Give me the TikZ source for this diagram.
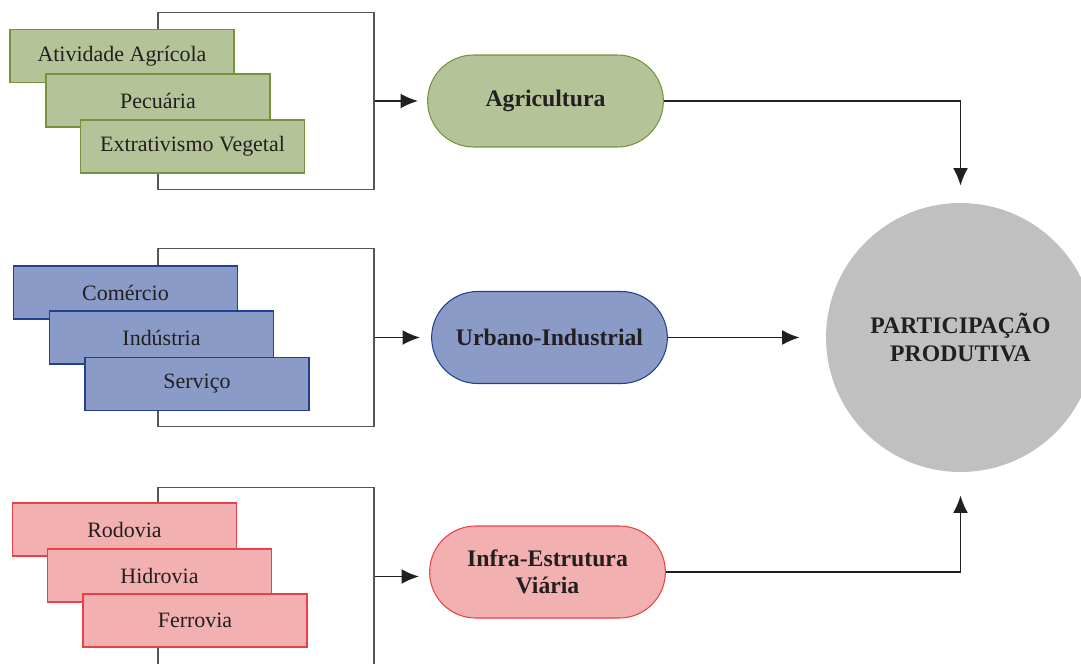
\documentclass[tikz,border=0pt]{standalone}
\usepackage{fontspec}
\setmainfont{Liberation Serif}
\usepackage{tikz}
\usetikzlibrary{shapes.misc, arrows.meta}
\definecolor{AgFill}{RGB}{181,196,152}
\definecolor{AgLine}{RGB}{118,146,60}
\definecolor{UrFill}{RGB}{138,155,200}
\definecolor{UrLine}{RGB}{36,62,145}
\definecolor{InFill}{RGB}{242,176,176}
\definecolor{InLine}{RGB}{236,64,72}
\definecolor{PartGray}{RGB}{192,192,192}
\definecolor{FrameGray}{RGB}{85,85,85}
\definecolor{InkBlack}{RGB}{35,31,32}

\begin{document}
\begin{tikzpicture}[x=0.02cm, y=-0.02cm,
    item/.style={rectangle, minimum width=4.48cm, minimum height=1.06cm,
                 text=InkBlack, font=\fontsize{12.5}{14}\selectfont},
    sector/.style={rounded rectangle, minimum width=4.7cm, minimum height=1.84cm,
                   align=center, line width=0.6pt, text=InkBlack,
                   font=\fontsize{13.5}{15.5}\selectfont\bfseries},
    frame/.style={rectangle, draw=FrameGray, line width=0.75pt,
                  minimum width=4.32cm, minimum height=3.55cm},
    arr/.style={-{Latex[length=10pt, width=8.5pt]}, draw=InkBlack, line width=1.1pt}
  ]
  \useasboundingbox (0,0) rectangle (1081,663);

  % agricultura
  \node[frame] (agframe) at (266,101) {};
  \node[item, fill=AgFill, draw=AgLine, line width=0.8pt] (ativ) at (122,56)    {Atividade Agrícola};
  \node[item, fill=AgFill, draw=AgLine, line width=0.8pt] (pecu) at (158,100.5) {Pecuária};
  \node[item, fill=AgFill, draw=AgLine, line width=0.8pt] (extr) at (192.5,146.5) {Extrativismo Vegetal};
  \node[sector, fill=AgFill, draw=AgLine, minimum width=4.95cm] (agri) at (545.5,101) {Agricultura};

  % urbano-industrial
  \node[frame] (urframe) at (266,337.5) {};
  \node[item, fill=UrFill, draw=UrLine, line width=1.1pt] (come) at (125.5,292.5) {Comércio};
  \node[item, fill=UrFill, draw=UrLine, line width=1.1pt] (indu) at (161.5,337.5) {Indústria};
  \node[item, fill=UrFill, draw=UrLine, line width=1.1pt] (serv) at (197,384)     {Serviço};
  \node[sector, fill=UrFill, draw=UrLine, minimum width=4.95cm] (urb) at (549.5,337.5) {Urbano-Industrial};

  % infra-estrutura
  \node[frame] (inframe) at (266,576.5) {};
  \node[item, fill=InFill, draw=InLine, line width=0.8pt] (rodo) at (124.5,529.5) {Rodovia};
  \node[item, fill=InFill, draw=InLine, line width=0.8pt] (hidr) at (159.5,575.5) {Hidrovia};
  \node[item, fill=InFill, draw=InLine, line width=0.8pt] (ferr) at (195,620.5)   {Ferrovia};
  \node[sector, fill=InFill, draw=InLine, minimum width=4.95cm] (infra) at (547.5,572) {Infra-Estrutura\\Viária};

  \node[circle, fill=PartGray, minimum size=5.38cm, align=center, text=InkBlack,
        font=\fontsize{13.5}{15.5}\selectfont\bfseries] (part) at (960.5,337.5)
        {PARTICIPAÇÃO\\PRODUTIVA};

  \draw[arr, shorten >=0.18cm] (agframe.east) -- (agframe.east -| agri.west);
  \draw[arr, shorten >=0.22cm] (urframe.east) -- (urframe.east -| urb.west);
  \draw[arr, shorten >=0.2cm]  (inframe.east) -- (inframe.east -| infra.west);

  \draw[arr, shorten >=0.34cm] (agri.east) -| (part.north);
  \draw[arr, shorten >=0.52cm] (urb.east) -- (part.west);
  \draw[arr, shorten >=0.46cm] (infra.east) -| (part.south);
\end{tikzpicture}
\end{document}
